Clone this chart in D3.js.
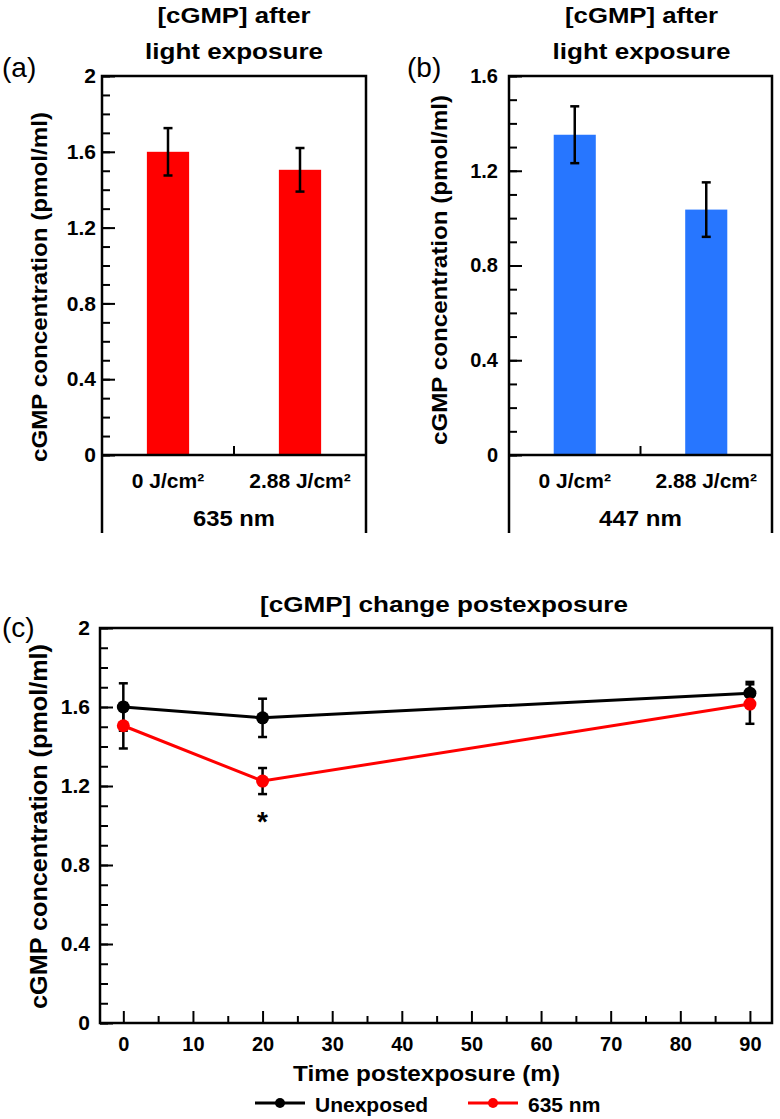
<!DOCTYPE html>
<html><head><meta charset="utf-8">
<script src="https://cdn.jsdelivr.net/npm/d3@7"></script>
<style>
body{margin:0;background:#fff;}
svg text{font-family:"Liberation Sans",Arial,Helvetica,sans-serif;fill:#000;}
</style></head><body>
<svg id="chart" width="780" height="1119"></svg>
<script>
// ---------- data ----------
const barCategories = ["0 J/cm²", "2.88 J/cm²"];
const panelA_means = [1.60, 1.505];
const panelA_errors = [0.125, 0.115];
const panelB_means = [1.352, 1.036];
const panelB_errors = [0.12, 0.115];

const timePoints = [0, 20, 90];
const unexposedMeans = [1.60, 1.545, 1.67];
const unexposedErrors = [0.12, 0.097, 0.057];
const nm635Means = [1.505, 1.225, 1.615];
const nm635Errors = [0.115, 0.066, 0.10];
const seriesNames = ["Unexposed", "635 nm"];
const significantTimes = [20];

const yMajorTicksA = [0, 0.4, 0.8, 1.2, 1.6, 2];
const yMajorTicksB = [0, 0.4, 0.8, 1.2, 1.6];
const xMajorTicksC = [0, 10, 20, 30, 40, 50, 60, 70, 80, 90];
const xMinorTicksC = [5, 15, 25, 35, 45, 55, 65, 75, 85];

// ---------- drawing ----------
const svg = d3.select("#chart");
const fmt = d3.format("~g");
const BOLD = 700;

function fitText(sel, len) {
  return sel.attr("textLength", len).attr("lengthAdjust", "spacingAndGlyphs");
}
function styleAxis(g, size) {
  g.attr("font-size", size).attr("font-family", null).attr("font-weight", BOLD);
  g.select(".domain").remove();
  g.selectAll(".tick line").attr("stroke", "#000").attr("stroke-width", 2);
  g.selectAll(".tick text").attr("fill", "#000");
}

function barPanel(o) {
  const g = svg.append("g");
  const y = d3.scaleLinear().domain([0, o.yMax]).range([455, 76]);
  const x = d3.scaleBand().domain(barCategories).range([o.left, o.right])
    .paddingInner(0.68).paddingOuter(0.34);
  const minor = d3.range(0, Math.round(o.yMax * 10) + 1).map(i => i / 10);

  // ticks
  g.append("g").attr("transform", `translate(${o.left},0)`)
    .call(d3.axisLeft(y).tickValues(minor).tickSize(-8).tickFormat(""))
    .call(s => styleAxis(s, o.tickFont));
  g.append("g").attr("transform", `translate(${o.left},0)`)
    .call(d3.axisLeft(y).tickValues(o.majors).tickSize(-13).tickPadding(o.tickPad).tickFormat(fmt))
    .call(s => styleAxis(s, o.tickFont));

  // bars
  g.selectAll("rect.bar").data(o.means).join("rect").attr("class", "bar")
    .attr("x", (d, i) => x(barCategories[i]))
    .attr("width", x.bandwidth())
    .attr("y", d => y(d))
    .attr("height", d => y(0) - y(d))
    .attr("fill", o.color);

  // error bars
  const eb = g.selectAll("g.err").data(o.means).join("g").attr("class", "err");
  eb.append("line")
    .attr("x1", (d, i) => x(barCategories[i]) + x.bandwidth() / 2)
    .attr("x2", (d, i) => x(barCategories[i]) + x.bandwidth() / 2)
    .attr("y1", (d, i) => y(d + o.errs[i])).attr("y2", (d, i) => y(d - o.errs[i]));
  [1, -1].forEach(sgn => {
    eb.append("line")
      .attr("x1", (d, i) => x(barCategories[i]) + x.bandwidth() / 2 - 4.5)
      .attr("x2", (d, i) => x(barCategories[i]) + x.bandwidth() / 2 + 4.5)
      .attr("y1", (d, i) => y(d + sgn * o.errs[i])).attr("y2", (d, i) => y(d + sgn * o.errs[i]));
  });
  eb.selectAll("line").attr("stroke", "#000").attr("stroke-width", 2.5);

  // frame
  g.append("path")
    .attr("d", `M${o.left},533V${y(o.yMax)}H${o.right}V533`)
    .attr("fill", "none").attr("stroke", "#000").attr("stroke-width", 2.5);
  g.append("line").attr("x1", o.left).attr("x2", o.right).attr("y1", y(0)).attr("y2", y(0))
    .attr("stroke", "#000").attr("stroke-width", 2.5);
  const mid = (x(barCategories[0]) + x(barCategories[1]) + x.bandwidth()) / 2;
  g.append("line").attr("x1", mid).attr("x2", mid).attr("y1", y(0)).attr("y2", y(0) - 9)
    .attr("stroke", "#000").attr("stroke-width", 2);

  // category labels
  g.selectAll("text.cat").data(barCategories).join("text").attr("class", "cat")
    .attr("x", d => x(d) + x.bandwidth() / 2).attr("y", 488)
    .attr("text-anchor", "middle").attr("font-size", 21).attr("font-weight", BOLD)
    .text(d => d);
  fitText(g.append("text").attr("x", mid).attr("y", 526).attr("text-anchor", "middle")
    .attr("font-size", 22).attr("font-weight", BOLD).text(o.wavelength), o.wlWidth);

  // titles
  fitText(g.append("text").attr("x", o.titleX).attr("y", 23).attr("text-anchor", "middle")
    .attr("font-size", 22).attr("font-weight", BOLD).text("[cGMP] after"), 153);
  fitText(g.append("text").attr("x", o.titleX).attr("y", 59).attr("text-anchor", "middle")
    .attr("font-size", 22).attr("font-weight", BOLD).text("light exposure"), 178);

  // y label
  fitText(g.append("text").attr("transform", `translate(${o.ylabX},${o.ylabY}) rotate(-90)`)
    .attr("text-anchor", "middle").attr("font-size", 22).attr("font-weight", BOLD)
    .text("cGMP concentration (pmol/ml)"), 350);

  // panel letter
  g.append("text").attr("x", o.letterX).attr("y", 77).attr("font-size", 28)
    .text(o.letter);
}

barPanel({left: 102, right: 366, yMax: 2, majors: yMajorTicksA, means: panelA_means, errs: panelA_errors,
  color: "#ff0000", wavelength: "635 nm", wlWidth: 82, titleX: 234, ylabX: 47, ylabY: 287,
  letter: "(a)", letterX: 2, tickFont: 21, tickPad: 6});
barPanel({left: 509, right: 772, yMax: 1.6, majors: yMajorTicksB, means: panelB_means, errs: panelB_errors,
  color: "#2776ff", wavelength: "447 nm", wlWidth: 83, titleX: 641.5, ylabX: 447, ylabY: 270,
  letter: "(b)", letterX: 407, tickFont: 20, tickPad: 11});

// ---------- panel c ----------
(function () {
  const L = 100, R = 772, T = 628, B = 1023;
  const g = svg.append("g");
  const x = d3.scaleLinear().domain([-3.35, 93.17]).range([L, R]);
  const y = d3.scaleLinear().domain([0, 2]).range([B, T]);
  const yMinor = d3.range(0, 21).map(i => i / 10);

  g.append("g").attr("transform", `translate(${L},0)`)
    .call(d3.axisLeft(y).tickValues(yMinor).tickSize(-8).tickFormat(""))
    .call(s => styleAxis(s, 21));
  g.append("g").attr("transform", `translate(${L},0)`)
    .call(d3.axisLeft(y).tickValues(yMajorTicksA).tickSize(-13).tickPadding(10).tickFormat(fmt))
    .call(s => styleAxis(s, 21));
  g.append("g").attr("transform", `translate(0,${B})`)
    .call(d3.axisBottom(x).tickValues(xMinorTicksC).tickSize(-7).tickFormat(""))
    .call(s => styleAxis(s, 20));
  g.append("g").attr("transform", `translate(0,${B})`)
    .call(d3.axisBottom(x).tickValues(xMajorTicksC).tickSize(-12).tickPadding(14).tickFormat(fmt))
    .call(s => styleAxis(s, 20));

  g.append("rect").attr("x", L).attr("y", T).attr("width", R - L).attr("height", B - T)
    .attr("fill", "none").attr("stroke", "#000").attr("stroke-width", 2.5);

  const series = [
    {name: seriesNames[0], color: "#000", means: unexposedMeans, errs: unexposedErrors},
    {name: seriesNames[1], color: "#ff0000", means: nm635Means, errs: nm635Errors}
  ];
  const line = d3.line().x(d => x(d.t)).y(d => y(d.v));
  series.forEach(s => {
    const pts = timePoints.map((t, i) => ({t, v: s.means[i], e: s.errs[i]}));
    const eg = g.append("g").attr("stroke", "#000").attr("stroke-width", 2.5);
    pts.forEach(p => {
      eg.append("line").attr("x1", x(p.t)).attr("x2", x(p.t)).attr("y1", y(p.v + p.e)).attr("y2", y(p.v - p.e));
      [1, -1].forEach(sg => eg.append("line").attr("x1", x(p.t) - 4.5).attr("x2", x(p.t) + 4.5)
        .attr("y1", y(p.v + sg * p.e)).attr("y2", y(p.v + sg * p.e)));
    });
    g.append("path").datum(pts).attr("d", line).attr("fill", "none")
      .attr("stroke", s.color).attr("stroke-width", 3);
    g.selectAll(null).data(pts).join("circle")
      .attr("cx", p => x(p.t)).attr("cy", p => y(p.v)).attr("r", 6.5).attr("fill", s.color);
  });

  // significance marker
  g.selectAll("text.sig").data(significantTimes).join("text").attr("class", "sig")
    .attr("x", t => x(t)).attr("y", t => {
      const i = timePoints.indexOf(t);
      return y(nm635Means[i] - nm635Errors[i]) + 37;
    })
    .attr("text-anchor", "middle").attr("font-size", 28).attr("font-weight", BOLD).text("*");

  // title & labels
  fitText(g.append("text").attr("x", 444).attr("y", 612).attr("text-anchor", "middle")
    .attr("font-size", 22).attr("font-weight", BOLD).text("[cGMP] change postexposure"), 368);
  fitText(g.append("text").attr("x", 426.5).attr("y", 1081).attr("text-anchor", "middle")
    .attr("font-size", 22).attr("font-weight", BOLD).text("Time postexposure (m)"), 267);
  fitText(g.append("text").attr("transform", `translate(47,826.5) rotate(-90)`)
    .attr("text-anchor", "middle").attr("font-size", 23).attr("font-weight", BOLD)
    .text("cGMP concentration (pmol/ml)"), 365);
  g.append("text").attr("x", 2).attr("y", 637).attr("font-size", 28).text("(c)");

  // legend
  const legX = [255, 468];
  const lg = g.selectAll("g.leg").data(series).join("g").attr("class", "leg")
    .attr("transform", (d, i) => `translate(${legX[i]},1103)`);
  lg.append("line").attr("x1", 0).attr("x2", 50).attr("y1", 0).attr("y2", 0)
    .attr("stroke", d => d.color).attr("stroke-width", 3);
  lg.append("circle").attr("cx", 25).attr("cy", 0).attr("r", 5).attr("fill", d => d.color);
  lg.append("text").attr("x", 60).attr("y", 9).attr("font-size", 21).attr("font-weight", BOLD)
    .text(d => d.name);
})();
</script>
</body></html>
